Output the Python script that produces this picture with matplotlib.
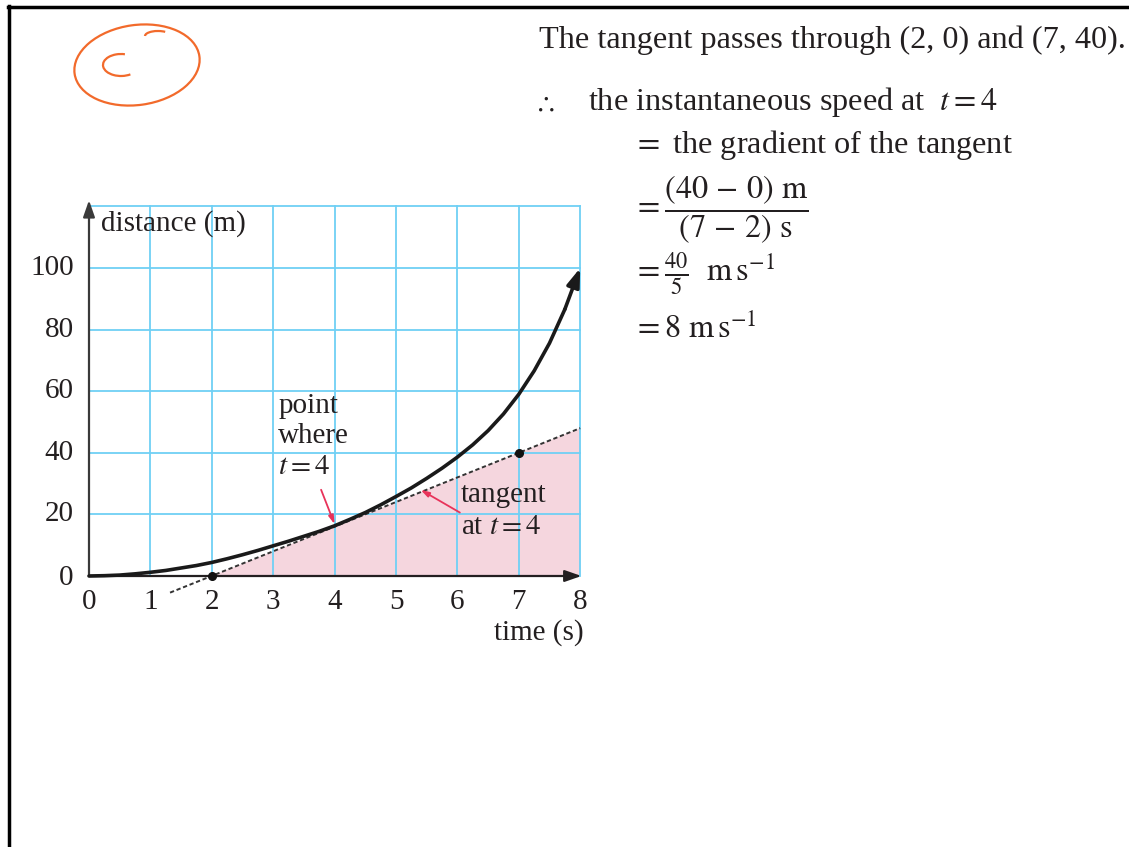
import numpy as np
import matplotlib.pyplot as plt
from matplotlib.patches import Ellipse, Arc, Polygon
from matplotlib.lines import Line2D

plt.rcParams['font.family'] = ['Liberation Serif', 'DejaVu Serif']
plt.rcParams['mathtext.fontset'] = 'stix'

# distance-time curve (every quarter second)
t = [0, 0.25, 0.5, 0.75, 1, 1.25, 1.5, 1.75, 2, 2.25, 2.5, 2.75, 3, 3.25, 3.5, 3.75,
     4, 4.25, 4.5, 4.75, 5, 5.25, 5.5, 5.75, 6, 6.25, 6.5, 6.75, 7, 7.25, 7.5, 7.75, 8]
d = [0, 0.1, 0.3, 0.7, 1.2, 1.8, 2.6, 3.4, 4.4, 5.6, 6.9, 8.3, 9.8, 11.3, 12.9, 14.5,
     16.3, 18.4, 20.6, 23.1, 25.8, 28.6, 31.7, 35.0, 38.6, 42.6, 47.2, 52.6, 59.0, 66.6,
     75.6, 86.6, 100.0]

# tangent at t = 4
tan_t = [1.32, 8]
tan_d = [-5.4, 48]
tan_pts_t = [2, 7]
tan_pts_d = [0, 40]

xticks = [0, 1, 2, 3, 4, 5, 6, 7, 8]
yticks = [0, 20, 40, 60, 80, 100]

W, H = 1129, 847
fig = plt.figure(figsize=(W / 100, H / 100), dpi=100)
fig.patch.set_facecolor('white')

# frame lines at left and top
fig.add_artist(Line2D([9 / W, 9 / W], [0, 1 - 6 / H], color='black', lw=2.5))
fig.add_artist(Line2D([8 / W, 1], [1 - 7 / H, 1 - 7 / H], color='black', lw=2.5))

ax = fig.add_axes([58.3 / W, 240.2 / H, 552.6 / W, 415.8 / H])
ax.set_xlim(-0.5, 8.5)
ax.set_ylim(-10, 125)
ax.axis('off')

grid_c = '#6fd0f5'
for x in xticks[1:]:
    ax.plot([x, x], [0, 120], color=grid_c, lw=1.3, zorder=1)
for y in yticks[1:] + [120]:
    ax.plot([0, 8], [y, y], color=grid_c, lw=1.3, zorder=1)

# shaded region under the tangent
ax.add_patch(Polygon([(2, 0), (8, 48), (8, 0)], closed=True,
                     facecolor='#f5d6de', edgecolor='none', zorder=0.5))

# axes with arrow heads
ink = '#231f20'
ax.annotate('', xy=(8.02, 0), xytext=(0, 0),
            arrowprops=dict(arrowstyle='-|>,head_length=1.0,head_width=0.35',
                            color=ink, lw=1.6, shrinkA=0, shrinkB=0), zorder=3)
ax.annotate('', xy=(0, 122), xytext=(0, 0),
            arrowprops=dict(arrowstyle='-|>,head_length=1.0,head_width=0.35',
                            color='#3a3a3a', lw=1.6, shrinkA=0, shrinkB=0), zorder=3)

# tangent line and its two marked points
ax.plot(tan_t, tan_d, color='#333333', lw=1.4, ls=(0, (2.2, 1.4)), zorder=4)
ax.plot(tan_pts_t, tan_pts_d, 'o', color='#111111', ms=5.5, zorder=5)

# curve
ax.plot(t[:-1], d[:-1], color='#1a1a1a', lw=2.6, solid_capstyle='round',
        solid_joinstyle='round', zorder=6)
ax.annotate('', xy=(t[-1], d[-1]), xytext=(t[-2], d[-2]),
            arrowprops=dict(arrowstyle='-|>,head_length=1.1,head_width=0.38',
                            color='#1a1a1a', lw=2.6, shrinkA=0, shrinkB=0), zorder=6)

# tick labels
fs = 21
for y in yticks:
    yy = y - 0.8 if y == 0 else y
    ax.text(-0.25, yy, str(y), ha='right', va='center', fontsize=fs, color=ink)
for x in xticks:
    ax.text(x, -8.5, str(x), ha='center', va='center', fontsize=fs, color=ink)

ax.text(0.2, 114.5, 'distance (m)', ha='left', va='center', fontsize=fs, color=ink, zorder=7)
ax.text(8.06, -18.3, 'time (s)', ha='right', va='center', fontsize=fs, color=ink)

ax.text(3.08, 59.5, 'point\nwhere\n$t = 4$', ha='left', va='top', fontsize=fs,
        color=ink, linespacing=1.22, zorder=7)
ax.text(6.06, 30.5, 'tangent\nat $t = 4$', ha='left', va='top', fontsize=fs,
        color=ink, linespacing=1.28, zorder=7)

red = '#e8335a'
ax.annotate('', xy=(4.0, 16.8), xytext=(3.78, 28.0),
            arrowprops=dict(arrowstyle='-|>,head_length=0.5,head_width=0.15',
                            color=red, lw=1.3, shrinkA=0, shrinkB=0), zorder=8)
ax.annotate('', xy=(5.4, 28.0), xytext=(6.04, 20.6),
            arrowprops=dict(arrowstyle='-|>,head_length=0.5,head_width=0.15',
                            color=red, lw=1.3, shrinkA=0, shrinkB=0), zorder=8)

# overlay in pixel coordinates for the working and the pen mark
ov = fig.add_axes([0, 0, 1, 1])
ov.set_xlim(0, W)
ov.set_ylim(H, 0)
ov.axis('off')
ov.patch.set_alpha(0)

tf = 23.2
ov.text(539, 40, 'The tangent passes through (2, 0) and (7, 40).', ha='left', va='center',
        fontsize=tf, color=ink)
ov.text(534, 104, r'$\therefore$', ha='left', va='center', fontsize=tf - 4, color=ink)
ov.text(588, 102, r'the instantaneous speed at  $t = 4$', ha='left', va='center',
        fontsize=tf, color=ink)
ov.text(633, 145, r'$=$ the gradient of the tangent', ha='left', va='center',
        fontsize=tf, color=ink)
ov.text(633, 209, r'$=\dfrac{(40\,-\,0)\ \mathrm{m}}{(7\,-\,2)\ \mathrm{s}}$', ha='left',
        va='center', fontsize=tf, color=ink)
ov.text(633, 274, r'$=\frac{40}{5}\ \ \mathrm{m\,s}^{-1}$', ha='left', va='center',
        fontsize=tf, color=ink)
ov.text(633, 329, r'$= 8\ \mathrm{m\,s}^{-1}$', ha='left', va='center',
        fontsize=tf, color=ink)

orange = '#f26a2b'
ov.add_patch(Ellipse((137, 65), 126, 80, angle=-8, fill=False, ec=orange, lw=1.6))
ov.add_patch(Arc((158, 36), 26, 10, angle=0, theta1=180, theta2=330, ec=orange, lw=1.6))
ov.add_patch(Arc((121, 65), 36, 22, angle=0, theta1=45, theta2=290, ec=orange, lw=1.6))

fig.savefig('out.png', dpi=100)
